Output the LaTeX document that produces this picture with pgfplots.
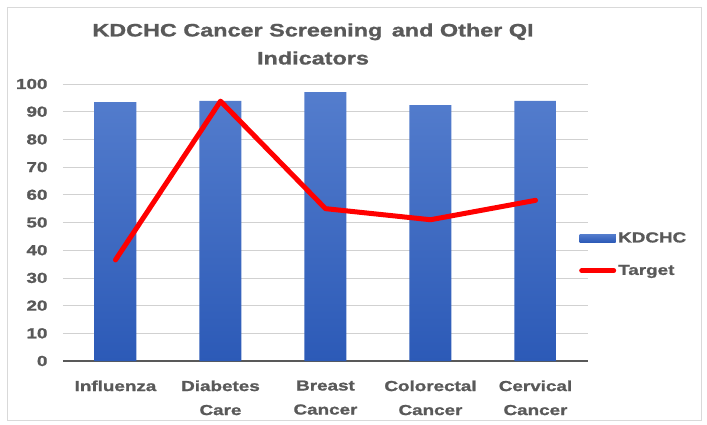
\documentclass[border=0pt]{standalone}
\usepackage{pgfplots}
\pgfplotsset{compat=1.18}
\usepackage{fontspec}
\setmainfont{Liberation Sans Bold}[FakeStretch=1.3, FakeBold=1.2]
\definecolor{txt}{HTML}{595959}
\definecolor{bartop}{RGB}{84,125,205}
\definecolor{barbot}{RGB}{44,90,183}
\definecolor{barleg}{RGB}{68,114,196}
\begin{document}
\begin{tikzpicture}
\useasboundingbox (0pt,0pt) rectangle (707pt,424pt);
\draw[black!15, line width=0.8pt] (7pt,4pt) rectangle (701pt,417pt);
\node[font=\fontsize{18}{28}\selectfont, text=txt, align=center] at (313pt,380pt) {KDCHC Cancer Screening \,and Other QI\\Indicators};
\begin{axis}[
  at={(63pt,63pt)}, anchor=south west,
  scale only axis, width=525pt, height=277pt,
  xmin=-0.5, xmax=4.5, ymin=0, ymax=100,
  xtick={0,1,2,3,4},
  xticklabels={Influenza,{Diabetes\\Care},{Breast\\Cancer},{Colorectal\\Cancer},{Cervical\\Cancer}},
  ytick={0,10,...,100},
  major tick length=0pt,
  /pgf/number format/assume math mode=true,
  tick label style={font=\fontsize{14.5}{24}\selectfont, text=txt},
  xticklabel style={align=center, anchor=north, yshift=-16pt},
  yticklabel style={anchor=east, xshift=-12pt},
  axis x line*=bottom, axis y line*=left,
  x axis line style={draw=black!65, line width=1.5pt, -},
  y axis line style={draw=none},
  ymajorgrids, grid style={black!18, line width=0.8pt},
  legend style={at={(1.0,0.385)}, anchor=west, draw=none, fill=none,
    font=\fontsize{14.5}{16}\selectfont, text=txt, row sep=17pt,
    inner sep=0pt, xshift=-9pt},
  legend cell align=left,
]
\addplot[ybar, bar width=42pt, draw=none, top color=bartop, bottom color=barbot,
  legend image code/.code={\fill[barleg] (0pt,-4pt) rectangle (36pt,4pt);}]
  coordinates {(0,93.5) (1,93.9) (2,97.1) (3,92.4) (4,93.9)};
\addlegendentry{KDCHC}
\addplot[red, line width=5pt, line join=round, line cap=round, mark=none,
  legend image code/.code={\draw[red, line width=5pt, line cap=round] (2pt,0pt) -- (34pt,0pt);}]
  coordinates {(0,36.5) (1,93.8) (2,55) (3,51) (4,58)};
\addlegendentry{Target}
\end{axis}
\end{tikzpicture}
\end{document}
